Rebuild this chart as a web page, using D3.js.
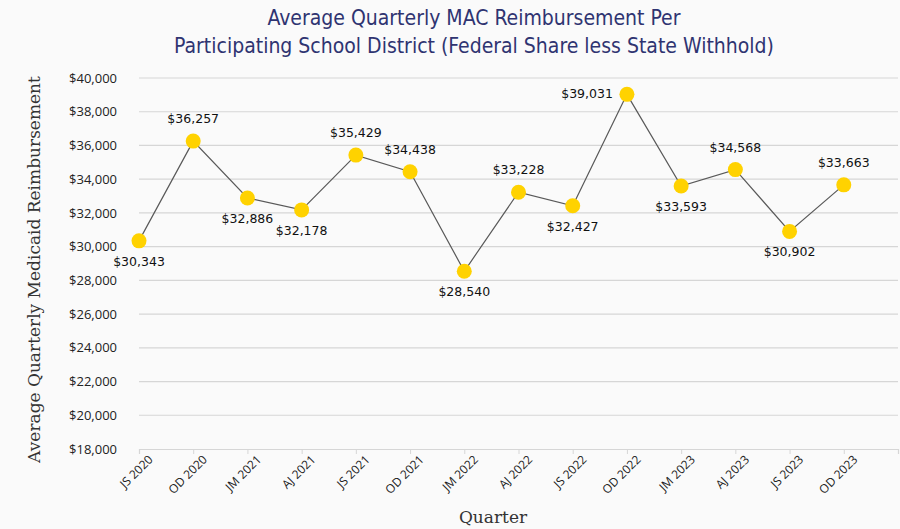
<!DOCTYPE html>
<html>
<head>
<meta charset="utf-8">
<script src="https://cdn.jsdelivr.net/npm/d3@7"></script>
<style>
  html, body { margin: 0; padding: 0; background: #fafafa; }
  svg { display: block; }
</style>
</head>
<body>
<svg id="chart"></svg>
<script>
// 数据
const quarters = ['JS 2020', 'OD 2020', 'JM 2021', 'AJ 2021', 'JS 2021', 'OD 2021', 'JM 2022',
  'AJ 2022', 'JS 2022', 'OD 2022', 'JM 2023', 'AJ 2023', 'JS 2023', 'OD 2023'];
const reimbursement = [30343, 36257, 32886, 32178, 35429, 34438, 28540,
  33228, 32427, 39031, 33593, 34568, 30902, 33663];
// 标签位置: a = 上, b = 下, l = 左
const labelPos = ['b', 'a', 'b', 'b', 'a', 'a', 'b', 'a', 'b', 'l', 'b', 'a', 'b', 'a'];
const yTicks = d3.range(18000, 40001, 2000);

const width = 900;
const height = 529;
const margin = { top: 78, right: 2, bottom: 80, left: 139 };

const svg = d3.select('#chart')
  .attr('width', width)
  .attr('height', height);

svg.append('rect')
  .attr('width', width)
  .attr('height', height)
  .attr('fill', '#fafafa');

// 标题
const title = svg.append('text')
  .attr('x', 474)
  .attr('text-anchor', 'middle')
  .attr('fill', '#2f3471')
  .style('font-family', '"DejaVu Sans Condensed", "DejaVu Sans", sans-serif')
  .style('font-size', '21px');
title.append('tspan').attr('x', 474).attr('y', 25).text('Average Quarterly MAC Reimbursement Per');
title.append('tspan').attr('x', 474).attr('y', 53).text('Participating School District (Federal Share less State Withhold)');

// 比例尺: 轴上多一个空位
const x = d3.scaleLinear()
  .domain([0, quarters.length])
  .range([margin.left, width - margin.right]);

const y = d3.scaleLinear()
  .domain([18000, 40000])
  .range([height - margin.bottom, margin.top]);

// 网格线
svg.append('g')
  .selectAll('line')
  .data(yTicks.slice(1))
  .enter()
  .append('line')
  .attr('x1', x(0))
  .attr('x2', x(quarters.length))
  .attr('y1', d => y(d))
  .attr('y2', d => y(d))
  .attr('stroke', '#d6d6d6')
  .attr('stroke-width', 1.2);

// y轴
const yAxis = svg.append('g')
  .attr('transform', `translate(${margin.left},0)`)
  .call(d3.axisLeft(y).tickValues(yTicks).tickSize(0).tickPadding(22)
    .tickFormat(d => '$' + d3.format(',')(d)));
yAxis.select('.domain').remove();
yAxis.selectAll('text')
  .attr('fill', '#222')
  .style('font-family', '"Open Sans", sans-serif')
  .style('font-size', '13px');

// x轴
const xAxis = svg.append('g')
  .attr('transform', `translate(0,${y(18000)})`)
  .call(d3.axisBottom(x).tickValues(d3.range(0, quarters.length + 1))
    .tickSize(5).tickPadding(4)
    .tickFormat(i => quarters[i] || ''));
xAxis.select('.domain').attr('stroke', '#d6d6d6').attr('stroke-width', 1.2);
xAxis.selectAll('.tick line').attr('stroke', '#d6d6d6');
xAxis.selectAll('text')
  .attr('fill', '#222')
  .attr('text-anchor', 'end')
  .attr('dx', '2')
  .attr('dy', '9')
  .attr('transform', 'rotate(-45)')
  .style('font-family', '"Open Sans", sans-serif')
  .style('font-size', '12px');

// 折线
const line = d3.line()
  .x((d, i) => x(i))
  .y(d => y(d));

svg.append('path')
  .datum(reimbursement)
  .attr('d', line)
  .attr('fill', 'none')
  .attr('stroke', '#595959')
  .attr('stroke-width', 1.2);

// 数据点
svg.append('g')
  .selectAll('circle')
  .data(reimbursement)
  .enter()
  .append('circle')
  .attr('cx', (d, i) => x(i))
  .attr('cy', d => y(d))
  .attr('r', 7.5)
  .attr('fill', '#ffd200');

// 数据标签
svg.append('g')
  .selectAll('text')
  .data(reimbursement)
  .enter()
  .append('text')
  .attr('x', (d, i) => labelPos[i] === 'l' ? x(i) - 14 : x(i))
  .attr('y', (d, i) => {
    if (labelPos[i] === 'a') return y(d) - 18;
    if (labelPos[i] === 'b') return y(d) + 25;
    return y(d) + 4;
  })
  .attr('text-anchor', (d, i) => labelPos[i] === 'l' ? 'end' : 'middle')
  .attr('fill', '#111')
  .style('font-family', '"DejaVu Sans", sans-serif')
  .style('font-size', '12.5px')
  .text(d => '$' + d3.format(',')(d));

// 轴标题
svg.append('text')
  .attr('transform', `translate(40,${(y(18000) + y(40000)) / 2 + 6}) rotate(-90)`)
  .attr('text-anchor', 'middle')
  .attr('fill', '#333')
  .style('font-family', '"DejaVu Serif", serif')
  .style('font-size', '17px')
  .text('Average Quarterly Medicaid Reimbursement');

svg.append('text')
  .attr('x', 493)
  .attr('y', 523)
  .attr('text-anchor', 'middle')
  .attr('fill', '#333')
  .style('font-family', '"DejaVu Serif", serif')
  .style('font-size', '17px')
  .text('Quarter');
</script>
</body>
</html>
